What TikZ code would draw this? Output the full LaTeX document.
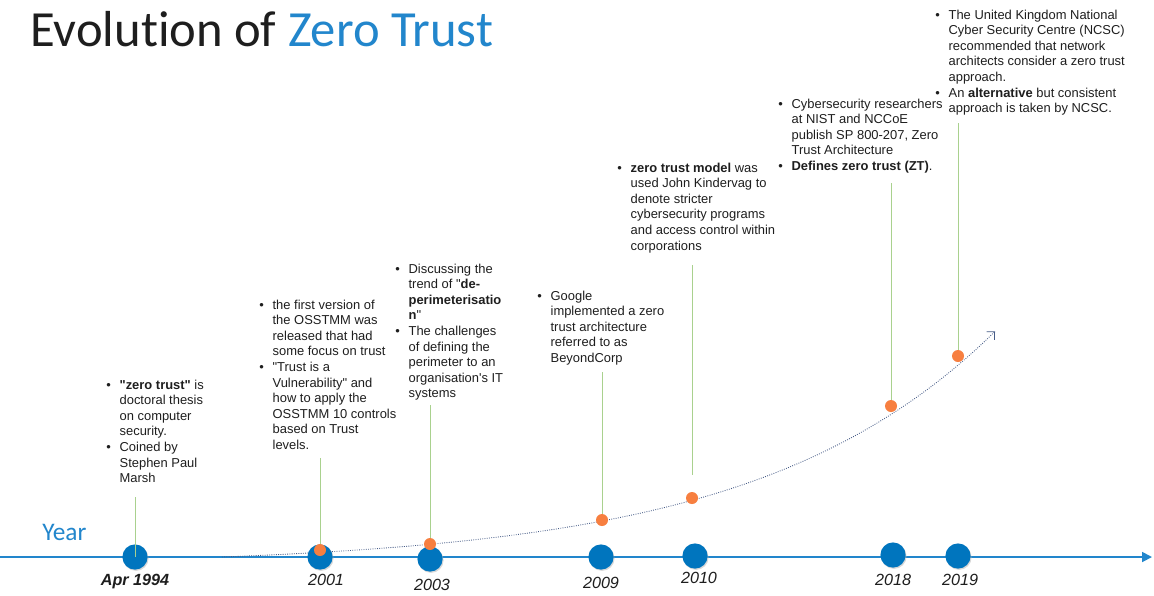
\documentclass[tikz,border=0pt]{standalone}
\usepackage{fontspec}
\setmainfont{Liberation Sans}[Ligatures=TeXOff]
\newfontfamily\titlefont{Carlito}[Ligatures={NoCommon}]
\usetikzlibrary{shadows,arrows.meta}

\definecolor{ztblue}{RGB}{0,117,190}
\definecolor{axisblue}{RGB}{34,134,204}
\definecolor{ztorange}{RGB}{247,127,64}
\definecolor{stemgreen}{RGB}{169,209,142}
\definecolor{trendgray}{RGB}{70,92,135}
\definecolor{ink}{RGB}{30,30,30}

\newcommand{\bul}{\makebox[9.5pt][l]{\textbullet}}

\tikzset{
    yearball/.style={circle, fill=ztblue, minimum size=0.63cm, inner sep=0pt,
        drop shadow={shadow xshift=0.7pt, shadow yshift=-0.9pt, fill=black!30, opacity=0.5}},
    event/.style={circle, fill=ztorange, minimum size=0.3cm, inner sep=0pt},
    stem/.style={stemgreen, line width=0.7pt},
    trend/.style={trendgray, densely dotted, line width=0.6pt, -{Straight Barb[length=4pt]}},
    note/.style={anchor=base west, inner sep=0pt, text=ink, font=\fontsize{9.2}{11.1}\selectfont},
    year/.style={font=\fontsize{11.5}{13}\selectfont\itshape, text=ink},
}

\begin{document}
\begin{tikzpicture}[x=0.025cm, y=-0.025cm]
    \fill[white] (0,0) rectangle (1154,595);
    \useasboundingbox (0,0) rectangle (1154,595);

    \node[anchor=base west, inner sep=0pt, text=ink, font=\titlefont\fontsize{36}{40}\selectfont] (title) at (30,46)
        {Evolution of \textcolor{axisblue}{Zero Trust}};
    \node[anchor=base west, inner sep=0pt, text=axisblue, font=\titlefont\fontsize{18}{20}\selectfont] (yr) at (42,540) {Year};

    % time axis
    \coordinate (axisL) at (0,557);
    \coordinate (axisR) at (1152,557);
    \draw[axisblue, line width=1.3pt, -{Triangle[length=7pt, width=7pt]}] (axisL) -- (axisR);

    \node[yearball] (b94) at (135,557) {};
    \node[yearball] (b01) at (320,557) {};
    \node[yearball] (b03) at (430,559) {};
    \node[yearball] (b09) at (601,557) {};
    \node[yearball] (b10) at (695,556) {};
    \node[yearball] (b18) at (893,555) {};
    \node[yearball] (b19) at (958,556) {};

    \node[year] (y94) at (135,582) {\textbf{Apr 1994}};
    \node[year] (y01) at (326,580) {2001};
    \node[year] (y03) at (432,585) {2003};
    \node[year] (y09) at (601,583) {2009};
    \node[year] (y10) at (699,578) {2010};
    \node[year] (y18) at (893,580) {2018};
    \node[year] (y19) at (960,580) {2019};

    % growth curve
    \draw[trend] plot[domain=222:995, samples=80] (\x, {557-9.16*(exp(0.0042*(\x-222))-1)});

    % stems
    \coordinate (s94) at (135,497);
    \coordinate (s01) at (320,458);
    \coordinate (s03) at (430,405);
    \coordinate (s09) at (602,372);
    \coordinate (s10) at (692,265);
    \coordinate (s18) at (891,183);
    \coordinate (s19) at (958,123);

    \node[event] (e01) at (320,550) {};
    \node[event] (e03) at (430,544) {};
    \node[event] (e09) at (602,520) {};
    \node[event] (e10) at (692,498) {};
    \node[event] (e18) at (891,406) {};
    \node[event] (e19) at (958,356) {};

    \draw[stem] (s94) -- (b94.center);
    \draw[stem] (s01) -- (e01);
    \draw[stem] (s03) -- (e03);
    \draw[stem] (s09) -- (e09);
    \draw[stem, shorten >=12pt] (s10) -- (e10);
    \draw[stem] (s18) -- (e18);
    \draw[stem] (s19) -- (e19);

    \node[note] (t94) at (106,389) {\begin{tabular}[t]{@{}l@{}l@{}}
        \bul & \textbf{"zero trust"} is\\
             & doctoral thesis\\
             & on computer\\
             & security.\\
        \bul & Coined by\\
             & Stephen Paul\\
             & Marsh
    \end{tabular}};

    \node[note] (t01) at (259,309) {\begin{tabular}[t]{@{}l@{}l@{}}
        \bul & the first version of\\
             & the OSSTMM was\\
             & released that had\\
             & some focus on trust\\
        \bul & "Trust is a\\
             & Vulnerability" and\\
             & how to apply the\\
             & OSSTMM 10 controls\\
             & based on Trust\\
             & levels.
    \end{tabular}};

    \node[note] (t03) at (395,273) {\begin{tabular}[t]{@{}l@{}l@{}}
        \bul & Discussing the\\
             & trend of "\textbf{de-}\\
             & \textbf{perimeterisatio}\\
             & \textbf{n}"\\
        \bul & The challenges\\
             & of defining the\\
             & perimeter to an\\
             & organisation's IT\\
             & systems
    \end{tabular}};

    \node[note] (t09) at (537,300) {\begin{tabular}[t]{@{}l@{}l@{}}
        \bul & Google\\
             & implemented a zero\\
             & trust architecture\\
             & referred to as\\
             & BeyondCorp
    \end{tabular}};

    \node[note] (t10) at (617,172) {\begin{tabular}[t]{@{}l@{}l@{}}
        \bul & \textbf{zero trust model} was\\
             & used John Kindervag to\\
             & denote stricter\\
             & cybersecurity programs\\
             & and access control within\\
             & corporations
    \end{tabular}};

    \node[note] (t18) at (778,108) {\begin{tabular}[t]{@{}l@{}l@{}}
        \bul & Cybersecurity researchers\\
             & at NIST and NCCoE\\
             & publish SP 800-207, Zero\\
             & Trust Architecture\\
        \bul & \textbf{Defines zero trust (ZT)}.
    \end{tabular}};

    \node[note] (t19) at (935,19) {\begin{tabular}[t]{@{}l@{}l@{}}
        \bul & The United Kingdom National\\
             & Cyber Security Centre (NCSC)\\
             & recommended that network\\
             & architects consider a zero trust\\
             & approach.\\
        \bul & An \textbf{alternative} but consistent\\
             & approach is taken by NCSC.
    \end{tabular}};
\end{tikzpicture}
\end{document}
